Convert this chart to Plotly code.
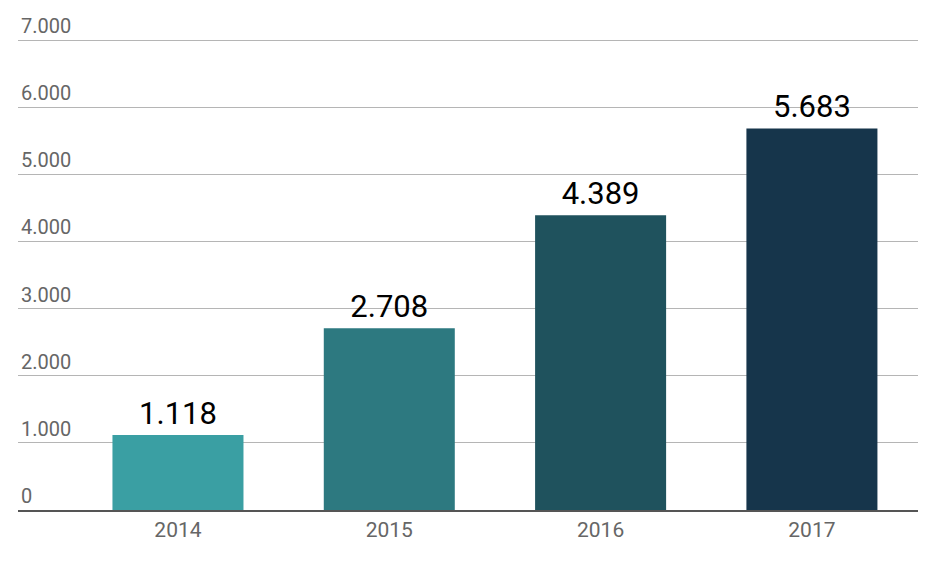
import plotly.graph_objects as go

years = ["2014", "2015", "2016", "2017"]
values = [1118, 2708, 4389, 5683]
colors = ["#3a9fa3", "#2d7980", "#1f525d", "#16354b"]
y_ticks = [0, 1000, 2000, 3000, 4000, 5000, 6000, 7000]

fig = go.Figure(go.Bar(
    x=years, y=values,
    marker=dict(color=colors, line=dict(width=0)),
    width=0.62,
    texttemplate="%{y:,}",
    textposition="outside",
    textfont=dict(family="Roboto", size=31, color="#000000"),
    cliponaxis=False,
))

fig.update_layout(
    width=943, height=564,
    margin=dict(l=18, r=25, t=38, b=54),
    paper_bgcolor="white", plot_bgcolor="white",
    separators=",.",
    showlegend=False,
    font=dict(family="Roboto", color="#666666"),
    xaxis=dict(
        type="category",
        range=[-0.757, 3.502],
        showgrid=False,
        showline=True, linecolor="#555555", linewidth=2,
        ticks="",
        tickfont=dict(family="Roboto", size=21, color="#666666"),
    ),
    yaxis=dict(
        range=[0, 7030],
        tickvals=y_ticks,
        tickformat=",",
        showgrid=True, gridcolor="#b5b5b5", gridwidth=1,
        zeroline=False,
        ticklabelposition="inside top",
        ticklabeloverflow="allow",
        ticks="",
        tickfont=dict(family="Roboto", size=20, color="#666666"),
    ),
)

fig.write_html("out.html")
